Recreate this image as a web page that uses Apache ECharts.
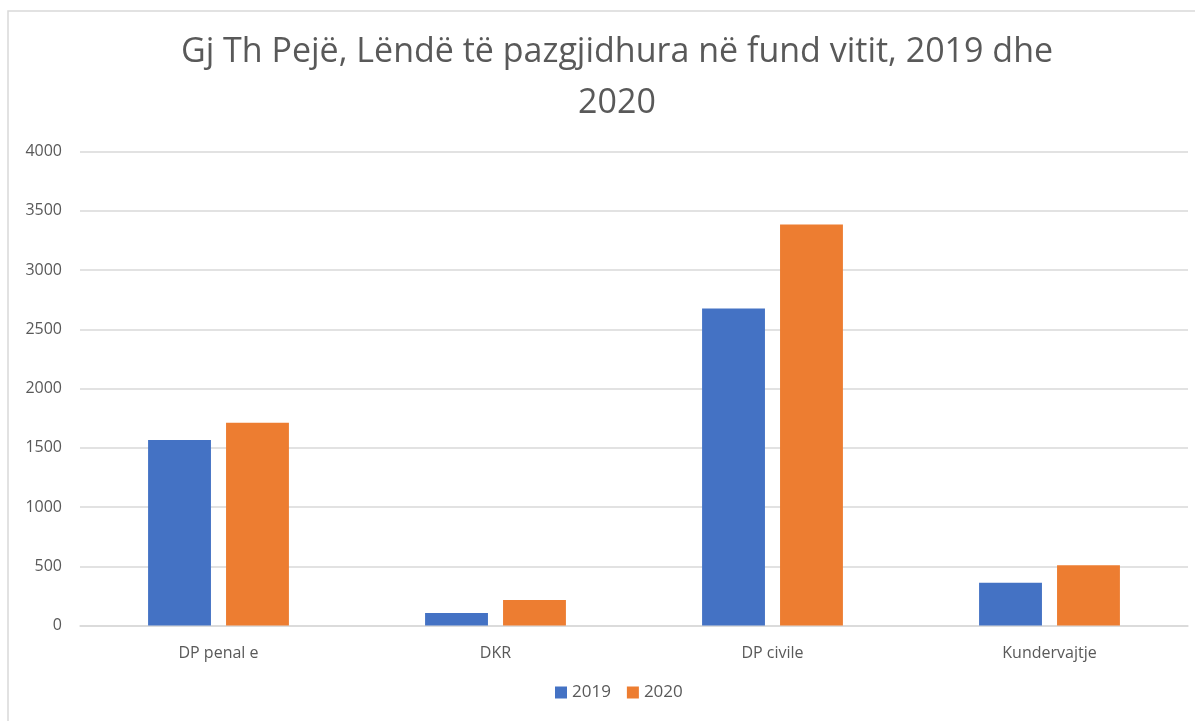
<!DOCTYPE html>
<html>
<head>
<meta charset="utf-8">
<script src="https://cdn.jsdelivr.net/npm/echarts@6/dist/echarts.min.js"></script>
<style>
  html, body { margin: 0; padding: 0; background: #fff; }
  #chart { width: 1195px; height: 721px; }
</style>
</head>
<body>
<div id="chart"></div>
<script>
const categories = ['DP penal e', 'DKR', 'DP civile', 'Kundervajtje'];
const values2019 = [1565, 105, 2675, 360];
const values2020 = [1712, 215, 3383, 508];
const yTicks = [0, 500, 1000, 1500, 2000, 2500, 3000, 3500, 4000];

const FONT = '"Open Sans", Lato, sans-serif';
const chart = echarts.init(document.getElementById('chart'));

chart.setOption({
  backgroundColor: '#fff',
  graphic: [{
    type: 'rect',
    shape: { x: 8, y: 11, width: 1195, height: 720 },
    style: { fill: 'none', stroke: '#d9d9d9', lineWidth: 1.5 },
    silent: true
  }],
  title: {
    text: 'Gj Th Pejë, Lëndë të pazgjidhura në fund vitit, 2019 dhe\n2020',
    left: 612,
    top: 22,
    textAlign: 'center',
    textStyle: {
      fontFamily: FONT,
      fontSize: 34,
      fontWeight: 'normal',
      color: '#595959',
      lineHeight: 51,
      align: 'center'
    }
  },
  legend: {
    bottom: 15,
    left: 550,
    itemWidth: 12,
    itemHeight: 12,
    itemGap: 16,
    icon: 'rect',
    textStyle: { fontFamily: FONT, fontSize: 17, color: '#595959' },
    data: ['2019', '2020']
  },
  grid: {
    left: 80,
    right: 7,
    top: 151.5,
    bottom: 95.5
  },
  xAxis: {
    type: 'category',
    data: categories,
    axisLine: { lineStyle: { color: '#d9d9d9', width: 1.5 } },
    axisTick: { show: false },
    axisLabel: {
      fontFamily: FONT,
      fontSize: 16,
      color: '#595959',
      margin: 20
    }
  },
  yAxis: {
    type: 'value',
    min: yTicks[0],
    max: yTicks[yTicks.length - 1],
    interval: 500,
    axisLine: { show: false },
    axisTick: { show: false },
    splitLine: { lineStyle: { color: '#d9d9d9', width: 1.5 } },
    axisLabel: {
      fontFamily: FONT,
      fontSize: 16,
      color: '#595959',
      margin: 18,
      formatter: v => String(v)
    }
  },
  series: [
    {
      name: '2019',
      type: 'bar',
      data: values2019,
      barWidth: '22.7%',
      barGap: '24%',
      itemStyle: { color: '#4472c4' }
    },
    {
      name: '2020',
      type: 'bar',
      data: values2020,
      barWidth: '22.7%',
      itemStyle: { color: '#ed7d31' }
    }
  ]
});
</script>
</body>
</html>
